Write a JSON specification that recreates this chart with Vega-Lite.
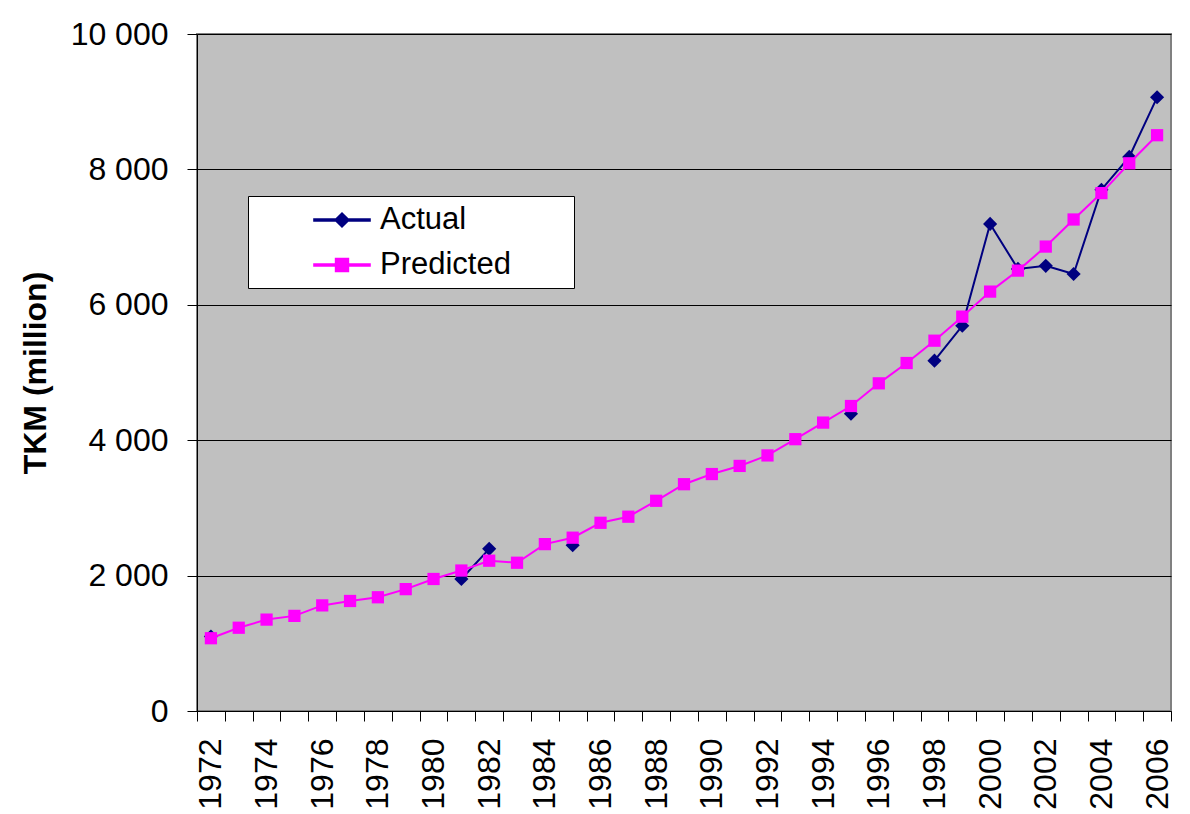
{
  "$schema": "https://vega.github.io/schema/vega-lite/v6.json",
  "width": 974,
  "height": 677,
  "autosize": {"type": "none"},
  "padding": {"left": 197, "top": 34, "right": 19, "bottom": 103},
  "background": "white",
  "config": {
    "font": "Liberation Sans",
    "view": {"fill": "#C0C0C0", "stroke": "#808080", "strokeWidth": 2},
    "axis": {
      "labelFontSize": 32,
      "labelColor": "#000000",
      "labelFont": "Liberation Sans",
      "domainColor": "#000000",
      "tickColor": "#000000",
      "tickSize": 10,
      "titleFontSize": 32,
      "titleColor": "#000000",
      "titleFont": "Liberation Sans",
      "titleFontWeight": "bold"
    }
  },
  "data": {
    "values": [
      {"year": 1972, "actual": 1100, "predicted": 1075},
      {"year": 1973, "actual": null, "predicted": 1230},
      {"year": 1974, "actual": null, "predicted": 1350},
      {"year": 1975, "actual": null, "predicted": 1405},
      {"year": 1976, "actual": null, "predicted": 1560},
      {"year": 1977, "actual": null, "predicted": 1625},
      {"year": 1978, "actual": null, "predicted": 1680},
      {"year": 1979, "actual": null, "predicted": 1800},
      {"year": 1980, "actual": null, "predicted": 1950},
      {"year": 1981, "actual": 1950, "predicted": 2075},
      {"year": 1982, "actual": 2395, "predicted": 2220},
      {"year": 1983, "actual": null, "predicted": 2190},
      {"year": 1984, "actual": null, "predicted": 2465},
      {"year": 1985, "actual": 2450, "predicted": 2560},
      {"year": 1986, "actual": null, "predicted": 2780},
      {"year": 1987, "actual": null, "predicted": 2870},
      {"year": 1988, "actual": null, "predicted": 3105},
      {"year": 1989, "actual": null, "predicted": 3350},
      {"year": 1990, "actual": null, "predicted": 3500},
      {"year": 1991, "actual": null, "predicted": 3620},
      {"year": 1992, "actual": null, "predicted": 3775},
      {"year": 1993, "actual": null, "predicted": 4015},
      {"year": 1994, "actual": null, "predicted": 4260},
      {"year": 1995, "actual": 4390, "predicted": 4505},
      {"year": 1996, "actual": null, "predicted": 4840},
      {"year": 1997, "actual": null, "predicted": 5140},
      {"year": 1998, "actual": 5175, "predicted": 5470},
      {"year": 1999, "actual": 5690, "predicted": 5825},
      {"year": 2000, "actual": 7195, "predicted": 6195},
      {"year": 2001, "actual": 6530, "predicted": 6505},
      {"year": 2002, "actual": 6575, "predicted": 6860},
      {"year": 2003, "actual": 6455, "predicted": 7260},
      {"year": 2004, "actual": 7700, "predicted": 7650},
      {"year": 2005, "actual": 8185, "predicted": 8090},
      {"year": 2006, "actual": 9065, "predicted": 8505}
    ]
  },
  "encoding": {
    "x": {
      "field": "year",
      "type": "ordinal",
      "scale": {"type": "band", "paddingInner": 0, "paddingOuter": 0},
      "axis": {
        "title": null,
        "labelAngle": -90,
        "labelPadding": 17,
        "labelOverlap": false,
        "tickBand": "extent",
        "labelExpr": "datum.value % 2 === 0 ? datum.label : ''"
      }
    },
    "color": {
      "datum": "Actual",
      "scale": {"domain": ["Actual", "Predicted"], "range": ["#000080", "#FF00FF"]},
      "legend": {
        "orient": "none",
        "legendX": 51,
        "legendY": 162,
        "title": null,
        "fillColor": "#FFFFFF",
        "strokeColor": "#000000",
        "padding": 8,
        "symbolOffset": 70,
        "symbolSize": 900,
        "labelOffset": 22,
        "labelFontSize": 31,
        "labelColor": "#000000",
        "labelLimit": 400,
        "rowPadding": 14,
        "encode": {
          "labels": {
            "update": {
              "text": {"signal": "datum.label + '\u00a0\u2800\u2800'"}
            }
          },
          "symbols": {
            "update": {
              "shape": {"signal": "datum.value === 'Actual' ? 'M-1.87,-0.067L1.87,-0.067L1.87,0.067L-1.87,0.067ZM0,-0.47L0.47,0L0,0.47L-0.47,0Z' : 'M-1.87,-0.067L1.87,-0.067L1.87,0.067L-1.87,0.067ZM-0.43,-0.43L0.43,-0.43L0.43,0.43L-0.43,0.43Z'"},
              "fill": {"signal": "datum.value === 'Actual' ? '#000080' : '#FF00FF'"},
              "stroke": {"value": "transparent"},
              "opacity": {"value": 1}
            }
          }
        }
      }
    }
  },
  "layer": [
    {
      "mark": {"type": "line", "strokeWidth": 2, "invalid": "break-paths-show-domains"},
      "encoding": {
        "y": {
          "field": "actual",
          "type": "quantitative",
          "title": "TKM (million)",
          "scale": {"domain": [0, 10000]},
          "axis": {
            "values": [0, 2000, 4000, 6000, 8000, 10000],
            "labelExpr": "replace(format(datum.value, ','), ',', ' ')",
            "labelPadding": 19,
            "titlePadding": 18,
            "gridColor": "#000000",
            "gridWidth": 1
          }
        },
        "color": {"datum": "Actual"}
      }
    },
    {
      "mark": {"type": "point", "shape": "diamond", "filled": true, "size": 200, "opacity": 1, "invalid": "filter"},
      "encoding": {
        "y": {"field": "actual", "type": "quantitative", "title": "TKM (million)"},
        "color": {"datum": "Actual"}
      }
    },
    {
      "mark": {"type": "line", "strokeWidth": 2},
      "encoding": {
        "y": {"field": "predicted", "type": "quantitative", "title": "TKM (million)"},
        "color": {"datum": "Predicted"}
      }
    },
    {
      "mark": {"type": "point", "shape": "square", "filled": true, "size": 150, "opacity": 1},
      "encoding": {
        "y": {"field": "predicted", "type": "quantitative", "title": "TKM (million)"},
        "color": {"datum": "Predicted"}
      }
    }
  ]
}
